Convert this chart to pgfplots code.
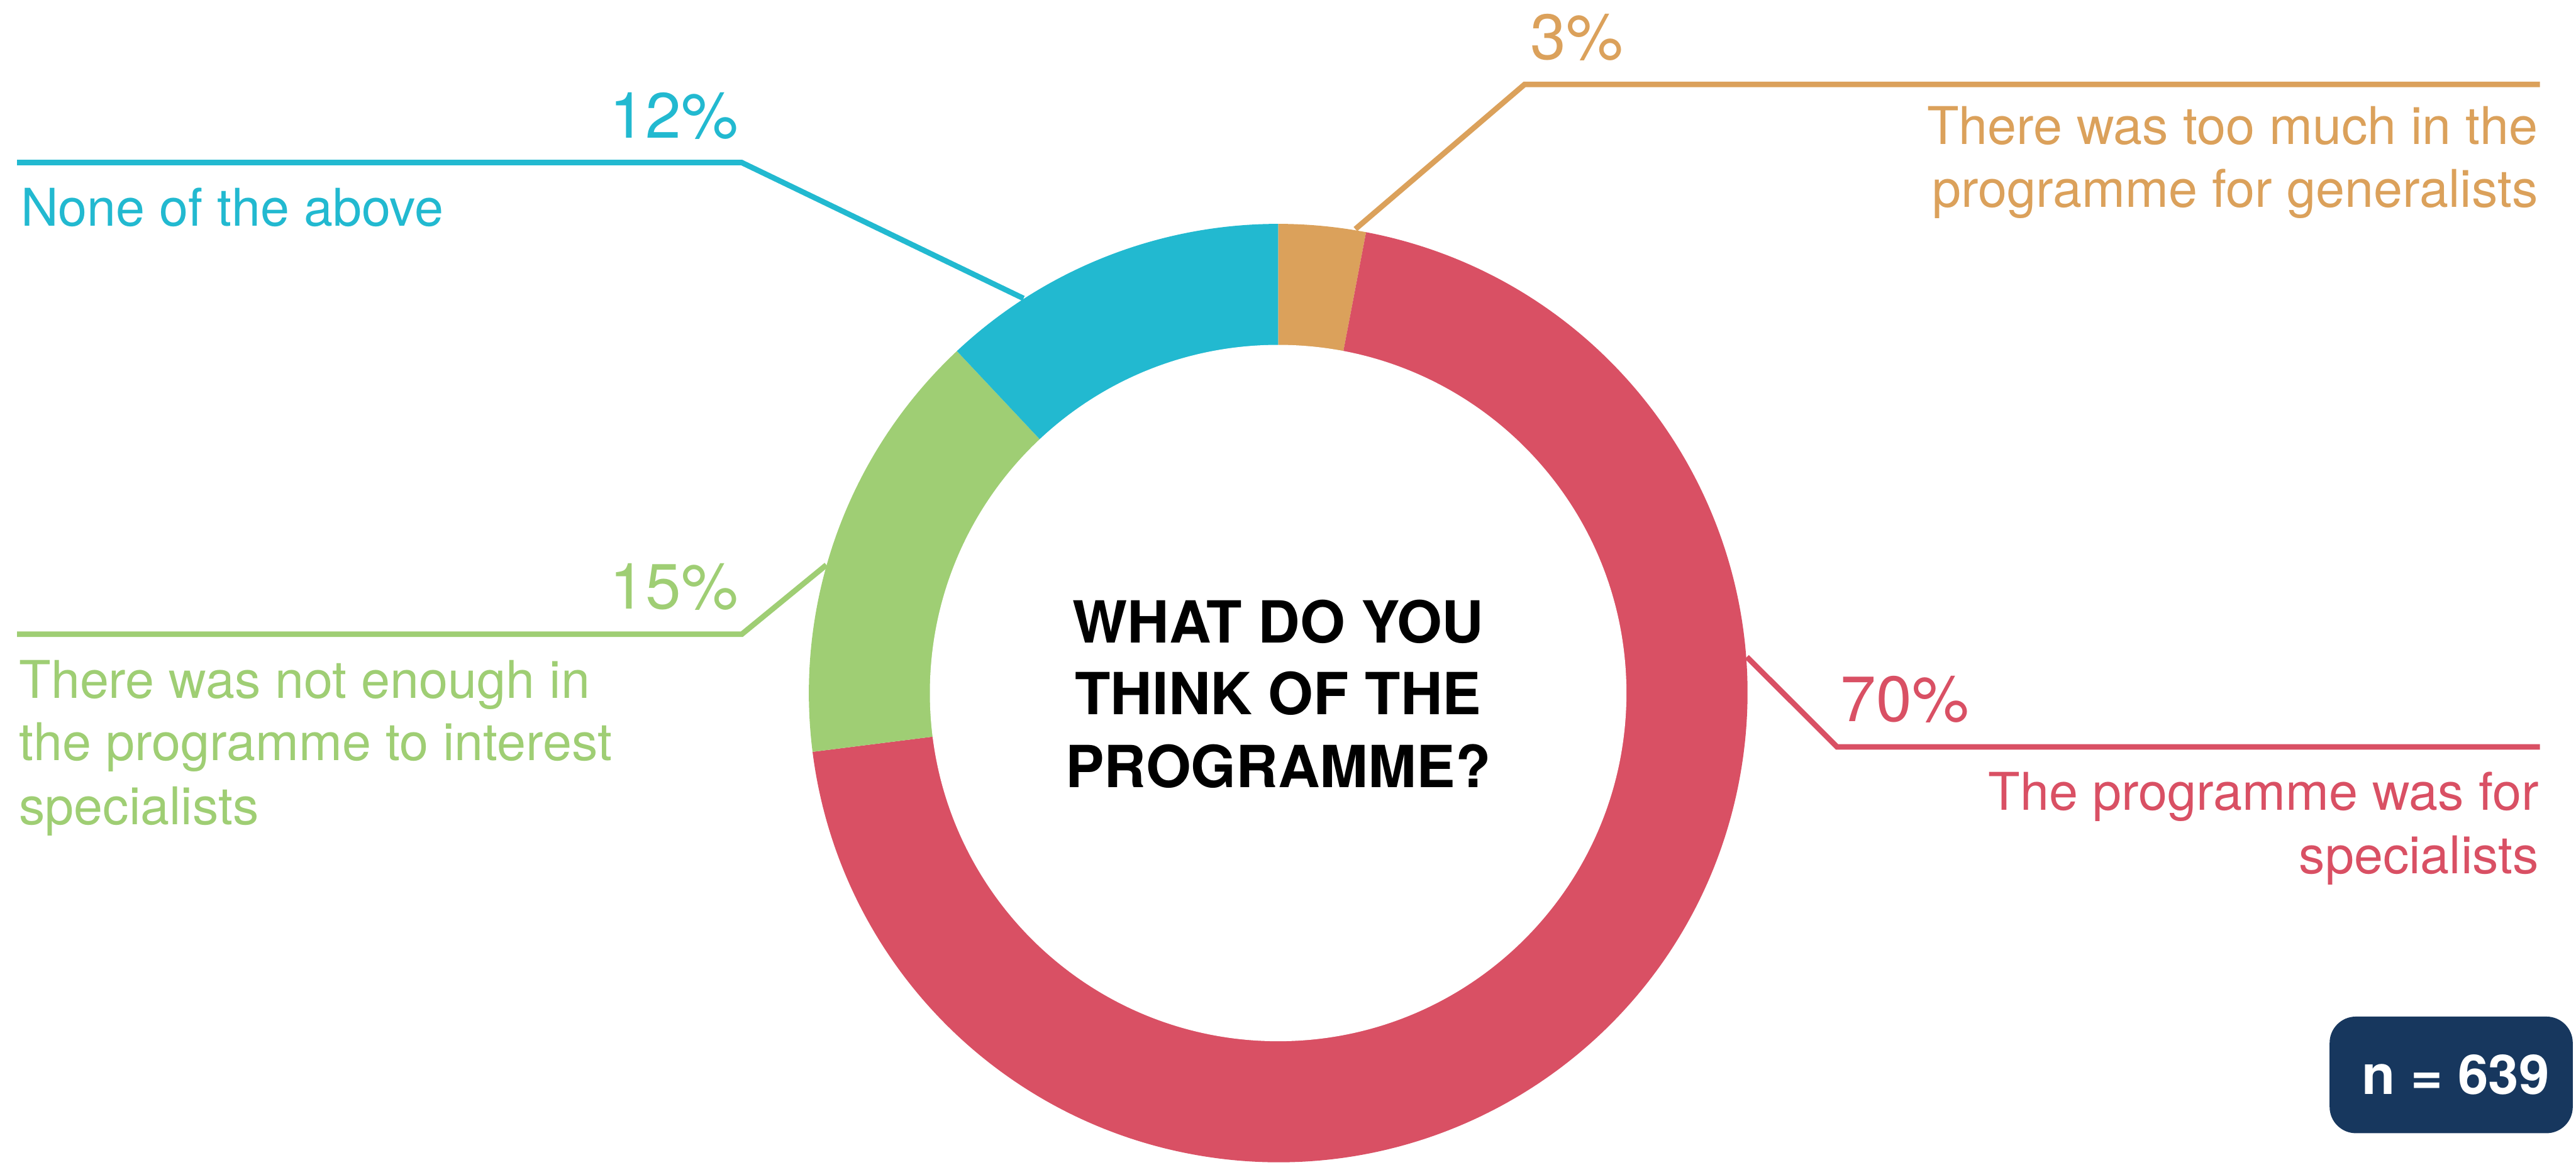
\documentclass[border=0pt]{standalone}
\usepackage{fontspec}
\setmainfont{TeX Gyre Heros}
\usepackage{pgfplots}
\pgfplotsset{compat=1.18}
\definecolor{cOrange}{RGB}{219,161,91}
\definecolor{cRed}{RGB}{217,80,100}
\definecolor{cGreen}{RGB}{159,206,116}
\definecolor{cBlue}{RGB}{34,185,208}
\definecolor{cNavy}{RGB}{23,55,94}
% shares (percent), clockwise from the top
\def\vOrange{3}\def\vRed{70}\def\vGreen{15}\def\vBlue{12}
\pgfmathsetmacro\aA{90}
\pgfmathsetmacro\aB{\aA-3.6*\vOrange}
\pgfmathsetmacro\aC{\aB-3.6*\vRed}
\pgfmathsetmacro\aD{\aC-3.6*\vGreen}
\pgfmathsetmacro\aE{\aD-3.6*\vBlue}
\def\cx{778}\def\cy{422}
\def\Ro{85.7bp}\def\Ri{63.6bp}
\newcommand\lab{\fontsize{9.5bp}{11.4bp}\selectfont}
\newcommand\pct{\fontsize{11.7bp}{14bp}\selectfont}
\begin{document}
\begin{tikzpicture}
\begin{axis}[x=0.3bp, y=0.3bp, xmin=0, xmax=1568, ymin=0, ymax=709,
  y dir=reverse, hide axis, clip=false, scale only axis]
% donut
\fill[cOrange] (axis cs:\cx,\cy) -- ++(\aA:\Ro) arc[start angle=\aA, end angle=\aB, radius=\Ro] -- cycle;
\fill[cRed] (axis cs:\cx,\cy) -- ++(\aB:\Ro) arc[start angle=\aB, end angle=\aC, radius=\Ro] -- cycle;
\fill[cGreen] (axis cs:\cx,\cy) -- ++(\aC:\Ro) arc[start angle=\aC, end angle=\aD, radius=\Ro] -- cycle;
\fill[cBlue] (axis cs:\cx,\cy) -- ++(\aD:\Ro) arc[start angle=\aD, end angle=\aE, radius=\Ro] -- cycle;
\fill[white] (axis cs:\cx,\cy) circle[radius=\Ri];
% leader lines
\draw[cOrange, line width=1bp] (axis cs:825,139.5) -- (axis cs:928,51.4) -- (axis cs:1546,51.4);
\draw[cBlue, line width=1bp] (axis cs:623,181.7) -- (axis cs:451.5,99) -- (axis cs:10.4,99);
\draw[cGreen, line width=1bp] (axis cs:503,344) -- (axis cs:451.5,386.2) -- (axis cs:10.4,386.2);
\draw[cRed, line width=1bp] (axis cs:1063.3,400) -- (axis cs:1118.2,454.8) -- (axis cs:1546,454.8);
% labels
\node[anchor=base west, inner sep=0, text=cOrange] at (axis cs:931,36.3) {\pct 3\%};
\node[anchor=base east, inner sep=0, text=cOrange] at (axis cs:1545.5,87.8) {\lab There was too much in the};
\node[anchor=base east, inner sep=0, text=cOrange] at (axis cs:1545.5,126) {\lab programme for generalists};
\node[anchor=base east, inner sep=0, text=cBlue] at (axis cs:450,84) {\pct 12\%};
\node[anchor=base west, inner sep=0, text=cBlue] at (axis cs:12,137.5) {\lab None of the above};
\node[anchor=base east, inner sep=0, text=cGreen] at (axis cs:450,370.8) {\pct 15\%};
\node[anchor=base west, inner sep=0, text=cGreen] at (axis cs:11,425) {\lab There was not enough in};
\node[anchor=base west, inner sep=0, text=cGreen] at (axis cs:11,463) {\lab the programme to interest};
\node[anchor=base west, inner sep=0, text=cGreen] at (axis cs:11,502) {\lab specialists};
\node[anchor=base west, inner sep=0, text=cRed] at (axis cs:1119.7,439.4) {\pct 70\%};
\node[anchor=base east, inner sep=0, text=cRed] at (axis cs:1546,493.4) {\lab The programme was for};
\node[anchor=base east, inner sep=0, text=cRed] at (axis cs:1546,532) {\lab specialists};
% centre title
\node[anchor=base, inner sep=0] at (axis cs:778,391.5) {\fontsize{10.6bp}{12bp}\selectfont\bfseries WHAT DO YOU};
\node[anchor=base, inner sep=0] at (axis cs:778,435) {\fontsize{10.6bp}{12bp}\selectfont\bfseries THINK OF THE};
\node[anchor=base, inner sep=0] at (axis cs:778,479.3) {\fontsize{10.6bp}{12bp}\selectfont\bfseries PROGRAMME?};
% n box
\fill[cNavy, rounded corners=4.8bp] (axis cs:1418,619) rectangle (axis cs:1566,690);
\node[anchor=base, inner sep=0, text=white] at (axis cs:1494.8,666.4) {\fontsize{10bp}{12bp}\selectfont\bfseries n = 639};
\end{axis}
\pgfresetboundingbox
\path (current axis.south west) rectangle (current axis.north east);
\end{tikzpicture}
\end{document}
